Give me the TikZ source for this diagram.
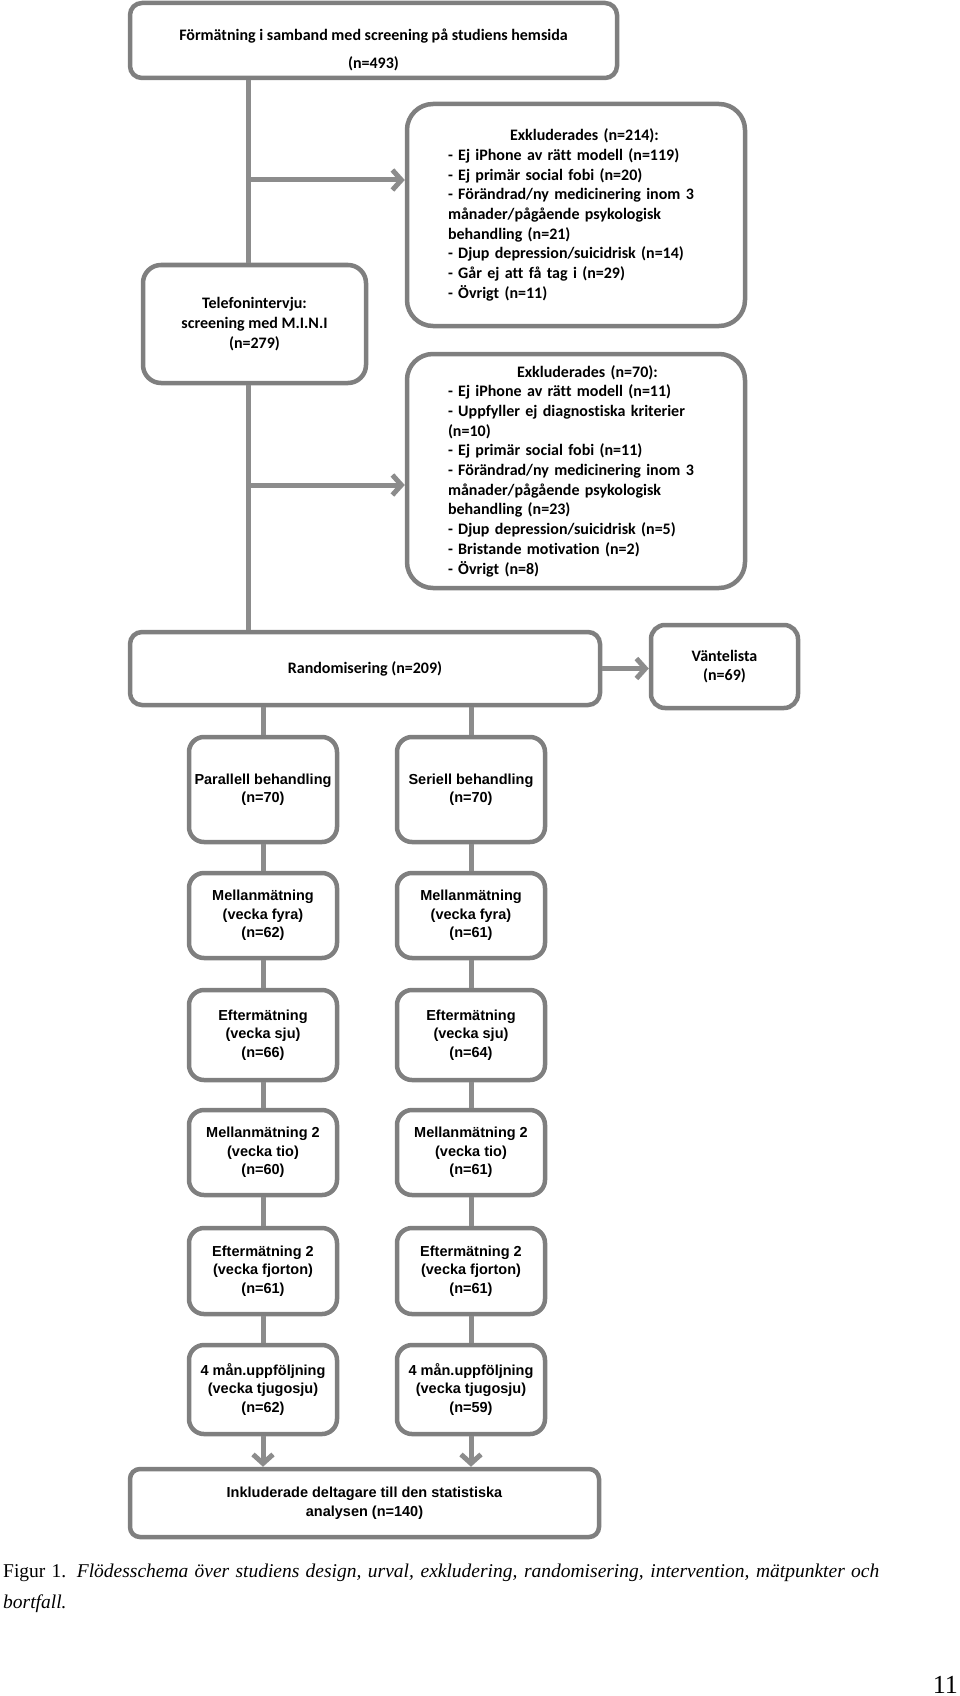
\documentclass[tikz,border=0pt]{standalone}
\usepackage{fontspec}
\setmainfont{Liberation Serif}
\newfontfamily\calibrifont{Carlito}[Ligatures=NoCommon]
\newfontfamily\arialfont{Liberation Sans}[Ligatures=NoCommon]
\usetikzlibrary{arrows.meta}

\definecolor{boxgray}{HTML}{7F7F7F}
\definecolor{linegray}{HTML}{8C8C8C}

\begin{document}
\begin{tikzpicture}[
    x=1pt, y=1pt,
    every node/.style={font=\calibrifont\bfseries\fontsize{16}{19.7}\selectfont},
    unit/.style={
        draw=boxgray,
        line width=4.5pt,
        rounded corners=12pt,
        align=center,
        inner sep=0pt
    },
    exunit/.style={
        unit,
        rounded corners=26pt,
        align=left,
        text width=256pt,
        minimum width=338pt
    },
    armunit/.style={
        unit,
        rounded corners=15pt,
        minimum width=148pt,
        font=\arialfont\bfseries\fontsize{14.5}{18.5}\selectfont
    },
    conn/.style={draw=linegray, line width=5pt},
    arr/.style={conn, -{Straight Barb[length=9pt, width=20pt]}}
]
    \useasboundingbox (0,0) rectangle (960,-1696);

    % Screening
    \node[
        unit,
        minimum width=487pt,
        minimum height=75pt
    ] (pre) at (373.5,-40.5) {\rule{0pt}{30pt}Förmätning i samband med screening på studiens hemsida\\[8pt] (n=493)};

    \node[
        unit,
        rounded corners=18pt,
        minimum width=223pt,
        minimum height=118pt
    ] (tel) at (254.5,-324) {Telefonintervju:\\ screening med M.I.N.I\\ (n=279)};

    \coordinate (spine) at (248,0);

    % Exclusions
    \node[exunit, minimum height=222pt] (ex1) at (576,-215) {%
        \hspace*{62pt}Exkluderades (n=214):\\
        - Ej iPhone av rätt modell (n=119)\\
        - Ej primär social fobi (n=20)\\
        - Förändrad/ny medicinering inom 3\\
        månader/pågående psykologisk\\
        behandling (n=21)\\
        - Djup depression/suicidrisk (n=14)\\
        - Går ej att få tag i (n=29)\\
        - Övrigt (n=11)};

    \node[exunit, minimum height=234pt] (ex2) at (576,-471) {%
        \hspace*{69pt}Exkluderades (n=70):\\
        - Ej iPhone av rätt modell (n=11)\\
        - Uppfyller ej diagnostiska kriterier\\
        (n=10)\\
        - Ej primär social fobi (n=11)\\
        - Förändrad/ny medicinering inom 3\\
        månader/pågående psykologisk\\
        behandling (n=23)\\
        - Djup depression/suicidrisk (n=5)\\
        - Bristande motivation (n=2)\\
        - Övrigt (n=8)};

    % Randomisation
    \node[
        unit,
        minimum width=470pt,
        minimum height=73pt
    ] (rand) at (365,-668.5) {Randomisering (n=209)};

    \node[
        unit,
        rounded corners=14pt,
        minimum width=147pt,
        minimum height=83pt
    ] (vent) at (724.5,-666.5) {Väntelista\\ (n=69)};

    % Parallel arm
    \node[armunit, minimum height=105pt] (par1) at (263,-789.5) {Parallell behandling\\ (n=70)};
    \node[armunit, minimum height=85pt] (par2) at (263,-915.5) {Mellanmätning\\ (vecka fyra)\\ (n=62)};
    \node[armunit, minimum height=90pt] (par3) at (263,-1035) {Eftermätning\\ (vecka sju)\\ (n=66)};
    \node[armunit, minimum height=85pt] (par4) at (263,-1152.5) {Mellanmätning 2\\ (vecka tio)\\ (n=60)};
    \node[armunit, minimum height=86pt] (par5) at (263,-1271) {Eftermätning 2\\ (vecka fjorton)\\ (n=61)};
    \node[armunit, minimum height=89pt] (par6) at (263,-1389.5) {4 mån.uppföljning\\ (vecka tjugosju)\\ (n=62)};

    % Serial arm
    \node[armunit, minimum height=105pt] (ser1) at (471,-789.5) {Seriell behandling\\ (n=70)};
    \node[armunit, minimum height=85pt] (ser2) at (471,-915.5) {Mellanmätning\\ (vecka fyra)\\ (n=61)};
    \node[armunit, minimum height=90pt] (ser3) at (471,-1035) {Eftermätning\\ (vecka sju)\\ (n=64)};
    \node[armunit, minimum height=85pt] (ser4) at (471,-1152.5) {Mellanmätning 2\\ (vecka tio)\\ (n=61)};
    \node[armunit, minimum height=86pt] (ser5) at (471,-1271) {Eftermätning 2\\ (vecka fjorton)\\ (n=61)};
    \node[armunit, minimum height=89pt] (ser6) at (471,-1389.5) {4 mån.uppföljning\\ (vecka tjugosju)\\ (n=59)};

    % Analysis
    \node[
        armunit,
        rounded corners=10pt,
        minimum width=469pt,
        minimum height=68pt
    ] (final) at (364.5,-1503) {Inkluderade deltagare till den statistiska\\ analysen (n=140)};

    % Caption
    \node[
        anchor=north west,
        inner sep=0pt,
        text width=876pt,
        align=justify,
        font=\rmfamily\fontsize{19.5}{31}\selectfont
    ] (caption) at (3,-1564) {Figur 1. \textit{Flödesschema över studiens design, urval, exkludering, randomisering, intervention, mätpunkter och\linebreak bortfall.}};

    \node[
        anchor=base east,
        inner sep=0pt,
        font=\rmfamily\fontsize{26}{30}\selectfont
    ] (pagenum) at (958,-1693) {11};

    % Arrows
    \draw[conn] (spine |- pre.south) -- (spine |- tel.north);
    \draw[conn] (spine |- tel.south) -- (spine |- rand.north);
    \draw[arr] ([yshift=35pt]ex1.west -| spine) -- ([yshift=35pt]ex1.west);
    \draw[arr] ([yshift=-14pt]ex2.west -| spine) -- ([yshift=-14pt]ex2.west);
    \draw[arr] (rand.east) -- (rand.east -| vent.west);

    \draw[conn] (rand.south -| par1) -- (par1.north);
    \draw[conn] (rand.south -| ser1) -- (ser1.north);
    \draw[conn] (par1.south) -- (par2.north);
    \draw[conn] (par2.south) -- (par3.north);
    \draw[conn] (par3.south) -- (par4.north);
    \draw[conn] (par4.south) -- (par5.north);
    \draw[conn] (par5.south) -- (par6.north);
    \draw[conn] (ser1.south) -- (ser2.north);
    \draw[conn] (ser2.south) -- (ser3.north);
    \draw[conn] (ser3.south) -- (ser4.north);
    \draw[conn] (ser4.south) -- (ser5.north);
    \draw[conn] (ser5.south) -- (ser6.north);
    \draw[arr] (par6.south) -- (par6.south |- final.north);
    \draw[arr] (ser6.south) -- (ser6.south |- final.north);

\end{tikzpicture}
\end{document}
